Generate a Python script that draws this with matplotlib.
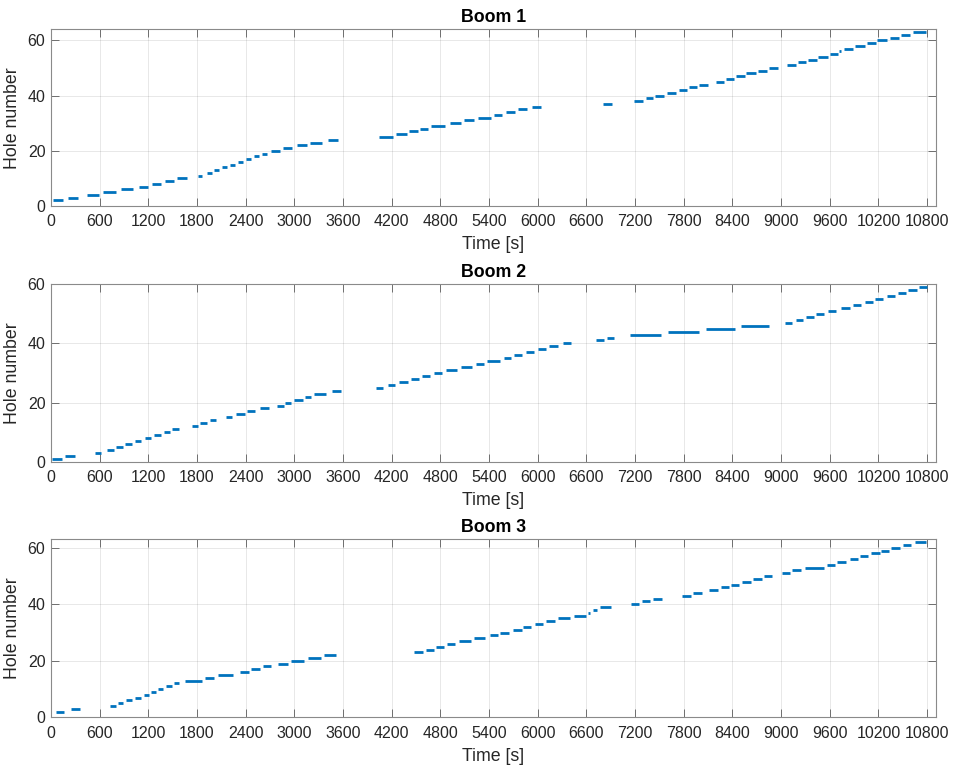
import numpy as np
import matplotlib as mpl
mpl.use("Agg")
import matplotlib.pyplot as plt

mpl.rcParams.update({
    "font.family": ["Liberation Sans", "DejaVu Sans"],
    "font.size": 11.3,
    "axes.linewidth": 0.8,
})

# hole drilled vs. time window [s] for each boom
b1_hole = [2, 3, 4, 5, 6, 7, 8, 9, 10, 11, 12, 13, 14, 15, 16, 17, 18, 19, 20, 21, 22, 23, 24,
           25, 26, 27, 28, 29, 30, 31, 32, 33, 34, 35, 36, 37, 38, 39, 40, 41, 42, 43, 44,
           45, 46, 47, 48, 49, 50, 51, 52, 53, 54, 55, 56, 57, 58, 59, 60, 61, 62, 63]
b1_start = [20, 211, 440, 644, 858, 1088, 1248, 1410, 1550, 1806, 1920, 2010, 2110, 2210, 2305,
            2405, 2500, 2600, 2710, 2855, 3030, 3195, 3410, 4045, 4250, 4415, 4550, 4685, 4915,
            5095, 5265, 5460, 5605, 5760, 5935, 6805, 7190, 7330, 7450, 7590, 7735, 7865, 7990,
            8195, 8320, 8445, 8570, 8715, 8855, 9070, 9205, 9335, 9460, 9600, 9715, 9775, 9910,
            10055, 10185, 10340, 10480, 10625]
b1_end = [150, 330, 595, 800, 1014, 1200, 1352, 1520, 1680, 1864, 1990, 2070, 2175, 2270, 2370,
          2465, 2560, 2665, 2825, 2970, 3155, 3340, 3535, 4210, 4385, 4520, 4650, 4855, 5050,
          5220, 5420, 5560, 5715, 5865, 6035, 6915, 7300, 7425, 7555, 7700, 7835, 7960, 8100,
          8300, 8420, 8550, 8685, 8820, 8965, 9180, 9310, 9440, 9575, 9700, 9735, 9880, 10030,
          10165, 10305, 10455, 10590, 10790]

b2_hole = [1, 2, 3, 4, 5, 6, 7, 8, 9, 10, 11, 12, 13, 14, 15, 16, 17, 18, 19, 20, 21, 22, 23, 24,
           25, 26, 27, 28, 29, 30, 31, 32, 33, 34, 35, 36, 37, 38, 39, 40, 41, 42, 43, 44, 45,
           46, 47, 48, 49, 50, 51, 52, 53, 54, 55, 56, 57, 58, 59]
b2_start = [10, 175, 540, 695, 805, 915, 1030, 1155, 1275, 1390, 1495, 1735, 1840, 1960, 2160,
            2285, 2420, 2570, 2780, 2890, 3000, 3130, 3240, 3465, 4000, 4150, 4290, 4440, 4575,
            4720, 4865, 5050, 5240, 5380, 5580, 5710, 5855, 6005, 6135, 6310, 6720, 6850, 7135,
            7610, 8070, 8500, 9045, 9180, 9305, 9425, 9575, 9735, 9880, 10030, 10160, 10300,
            10435, 10565, 10700]
b2_end = [135, 295, 620, 770, 885, 995, 1110, 1230, 1355, 1470, 1575, 1815, 1920, 2035, 2235,
          2385, 2520, 2685, 2870, 2960, 3105, 3210, 3385, 3575, 4095, 4240, 4400, 4540, 4670,
          4815, 5010, 5190, 5340, 5530, 5670, 5810, 5950, 6105, 6250, 6405, 6815, 6945, 7515,
          7985, 8430, 8855, 9140, 9275, 9400, 9530, 9680, 9845, 9985, 10130, 10260, 10405,
          10540, 10675, 10795]

b3_hole = [2, 3, 4, 5, 6, 7, 8, 9, 10, 11, 12, 13, 14, 15, 16, 17, 18, 19, 20, 21, 22, 23, 24,
           25, 26, 27, 28, 29, 30, 31, 32, 33, 34, 35, 36, 37, 38, 39, 40, 41, 42, 43, 44, 45,
           46, 47, 48, 49, 50, 51, 52, 53, 54, 55, 56, 57, 58, 59, 60, 61, 62]
b3_start = [55, 240, 730, 820, 930, 1035, 1140, 1230, 1320, 1420, 1515, 1655, 1895, 2060, 2330,
            2460, 2610, 2800, 2955, 3170, 3370, 4480, 4620, 4745, 4885, 5030, 5210, 5415, 5540,
            5690, 5820, 5965, 6105, 6250, 6450, 6620, 6685, 6765, 7150, 7285, 7420, 7780, 7915,
            8110, 8255, 8385, 8520, 8655, 8790, 9005, 9140, 9290, 9560, 9690, 9845, 9970, 10110,
            10235, 10360, 10500, 10655]
b3_end = [165, 355, 800, 890, 1000, 1105, 1210, 1295, 1380, 1490, 1580, 1855, 2015, 2240, 2435,
          2570, 2710, 2920, 3120, 3325, 3515, 4590, 4720, 4840, 4985, 5175, 5355, 5515, 5650,
          5800, 5915, 6070, 6210, 6400, 6590, 6640, 6730, 6900, 7245, 7380, 7530, 7885, 8020,
          8220, 8360, 8485, 8630, 8765, 8885, 9110, 9250, 9530, 9660, 9800, 9945, 10070, 10215,
          10335, 10470, 10605, 10790]

titles = ["Boom 1", "Boom 2", "Boom 3"]
booms = [(b1_hole, b1_start, b1_end), (b2_hole, b2_start, b2_end), (b3_hole, b3_start, b3_end)]
xticks = np.arange(0, 10801, 600)

LINE = "#0072BD"
AX = "#262626"
fig = plt.figure(figsize=(9.54, 7.69), dpi=100)
rects = [(0.0535, 0.7321, 0.9277, 0.2298),
         (0.0535, 0.3996, 0.9277, 0.2307),
         (0.0535, 0.0672, 0.9277, 0.2315)]

for rect, title, (hole, t0, t1) in zip(rects, titles, booms):
    ax = fig.add_axes(rect)
    ax.hlines(hole, t0, t1, color=LINE, lw=2.0, capstyle="butt", zorder=3)
    ax.set_xlim(0, 10910)
    ax.set_ylim(0, max(hole) + 1)
    ax.set_xticks(xticks)
    ax.set_yticks([0, 20, 40, 60])
    ax.grid(True, color="#262626", alpha=0.11, lw=0.7)
    ax.set_axisbelow(True)
    ax.tick_params(direction="in", length=6, width=0.7, color="#6e6e6e",
                   top=True, right=True, labelsize=11.5, labelcolor=AX, pad=6)
    ax.tick_params(axis="y", pad=4)
    for s in ax.spines.values():
        s.set_color("#8a8a8a")
    ax.set_title(title, fontsize=12.8, fontweight="bold", color="black", pad=5.5)
    ax.set_xlabel("Time [s]", fontsize=12.8, color=AX, labelpad=5)
    ax.set_ylabel("Hole number", fontsize=12.8, color=AX, labelpad=5)

fig.savefig("out.png", dpi=100)
